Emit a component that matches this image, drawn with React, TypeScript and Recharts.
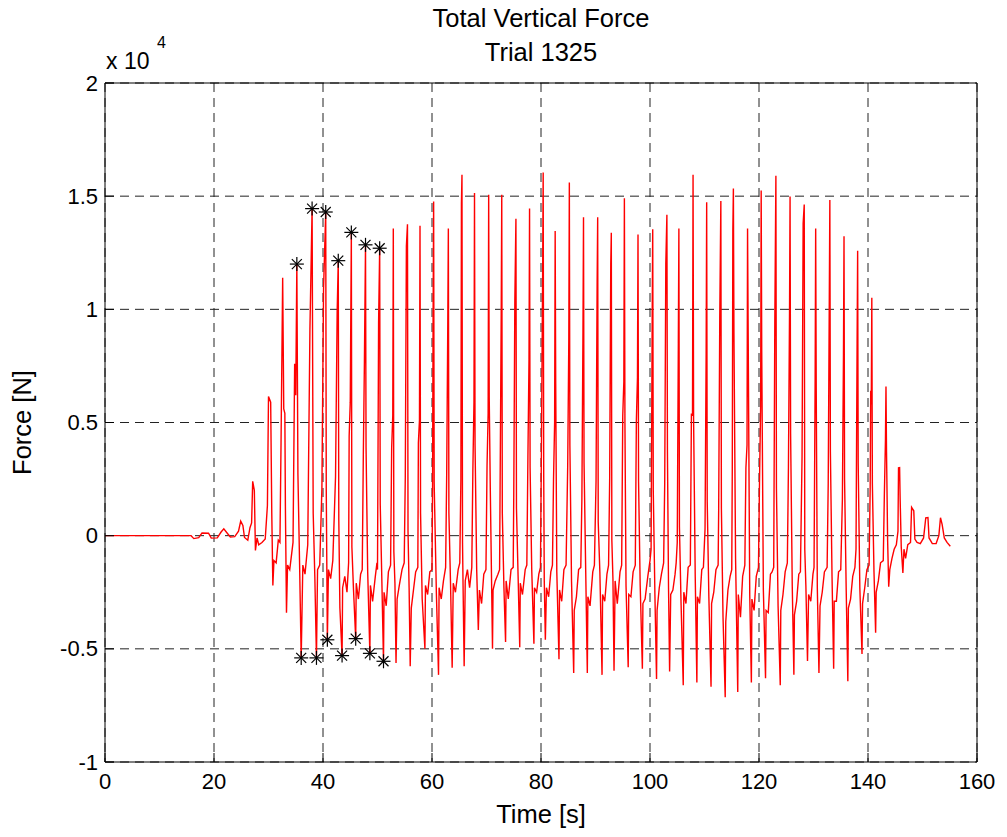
import React from 'react';
import { ComposedChart, Line, Scatter, XAxis, YAxis, CartesianGrid } from 'recharts';

// time [s], force [N]
const warmup = [
  [0, 0], [15.8, 0], [16.3, -130], [17.2, -90], [17.8, 120], [19.0, 110], [19.5, -110], [20.6, -100],
  [21.3, 160], [21.8, 300], [22.4, 120], [23.0, -60], [23.8, -40], [24.5, 200], [24.9, 640], [25.3, 450],
  [25.6, -80], [26.2, -200], [26.6, 350], [26.9, 560], [27.1, 2400], [27.4, 2000], [27.6, -650], [27.9, -100],
  [28.2, -400], [28.8, -300], [29.4, -150], [29.8, 1330], [30.0, 6150], [30.4, 5900], [30.6, 1000], [30.8, -2200],
  [31.0, -1100], [31.4, -1200], [31.8, -200], [32.1, -300], [32.3, 4070], [32.6, 11400], [32.8, 5600], [33.0, 5400],
  [33.1, 1300], [33.3, -3400], [33.5, -1300], [33.9, -1500], [34.5, -300], [34.8, 7600], [35.0, 6200], [35.2, 12000],
  [35.4, 2700], [35.7, -1200], [36.0, -5400], [36.3, -1300], [36.7, -1700], [37.2, -400], [37.6, 9100], [38.0, 14450],
  [38.2, 1000], [38.5, -1800], [38.8, -5400], [39.0, -1500], [39.4, -1300], [39.8, 2100], [40.1, 10900], [40.5, 14300],
  [40.6, 2000], [40.8, -4600], [41.0, -1500], [41.4, -1900], [41.8, -1100],
];

const steps40 = [
  [42.3, 2600], [42.6, 9900], [42.8, 12150], [42.9, 700], [43.1, -3200], [43.5, -5300], [43.6, -2300], [44.0, -1800], [44.4, -2500], [44.7, -1200],
  [44.8, 4400], [45.0, 5900], [45.2, 13400], [45.3, -500], [45.6, -2400], [46.0, -4550], [46.1, -2100], [46.5, -2800], [46.9, -1700], [47.2, -1500],
  [47.4, 3600], [47.6, 7700], [47.8, 12850], [47.9, 3900], [48.2, -1600], [48.6, -5200], [48.7, -2200], [49.1, -2900], [49.6, -1800], [49.9, -1200],
  [50.0, -1500], [50.2, 9400], [50.4, 12700], [50.5, 1400], [50.8, -2000], [51.1, -5550], [51.2, -2500], [51.6, -3100], [52.0, -1600], [52.4, -1300],
  [52.6, 3900], [52.8, 5300], [52.9, 13570], [53.0, -700], [53.2, -2100], [53.4, -5620], [53.6, -2800], [54.0, -2200], [54.5, -1500], [54.9, -1200],
  [55.1, 2600], [55.3, 12800], [55.5, 13760], [55.6, 200], [55.8, -2300], [56.0, -5770], [56.2, -3200], [56.6, -2400], [57.0, -1600], [57.4, -1400],
  [57.5, 4100], [57.7, 5100], [57.8, 13690], [57.9, 1000], [58.2, -2800], [58.7, -5000], [58.8, -2200], [59.2, -2600], [59.6, -1600], [60.0, -1500],
];

const steps60 = [
  [60.1, 2000], [60.2, 9500], [60.3, 14760], [60.4, 2300], [60.8, -2500], [61.2, -6150], [61.3, -2300], [61.7, -2800], [62.1, -2000], [62.5, -1400],
  [62.7, 2800], [62.9, 9500], [63.0, 13570], [63.1, 1000], [63.4, -2100], [63.7, -5840], [63.9, -2100], [64.3, -2500], [64.8, -1500], [65.1, -1200],
  [65.3, 2500], [65.4, 14700], [65.5, 15950], [65.6, -300], [65.7, -2200], [65.9, -5770], [66.1, -2000], [66.5, -1500], [66.9, -2300], [67.3, -1400],
  [67.5, 2900], [67.7, 5900], [67.8, 15140], [67.9, 4000], [68.2, -1500], [68.5, -4170], [68.7, -2400], [69.1, -3000], [69.5, -1700], [69.9, -1500],
  [70.1, 3100], [70.3, 5400], [70.4, 15060], [70.5, 6100], [70.7, 2000], [71.1, -5000], [71.2, -2400], [71.6, -2000], [72.1, -1700], [72.4, -1500],
  [72.5, 2300], [72.7, 9800], [72.8, 15060], [72.9, 1000], [73.2, -2300], [73.5, -4700], [73.6, -2000], [74.0, -2800], [74.5, -1500], [74.9, -1400],
  [75.0, 1700], [75.2, 10400], [75.4, 14000], [75.5, 1200], [75.8, -1800], [76.1, -4930], [76.2, -2100], [76.6, -2600], [77.1, -1500], [77.4, -1300],
  [77.6, 3500], [77.8, 7800], [77.9, 14450], [78.0, 3000], [78.3, -1500], [78.7, -4780], [78.8, -2300], [79.2, -2500], [79.6, -1700], [79.9, -1400],
];

const steps80 = [
  [80.1, 4500], [80.3, 11500], [80.4, 16050], [80.5, 2600], [80.6, -2000], [80.8, -4600], [81.0, -2300], [81.4, -2700], [81.8, -1600], [82.1, -1300],
  [82.3, 2500], [82.5, 5000], [82.6, 13460], [82.7, 6700], [82.9, -1600], [83.3, -5460], [83.4, -2400], [83.8, -2900], [84.2, -1500], [84.6, -1300],
  [84.9, 3100], [85.1, 8600], [85.2, 15600], [85.3, 4000], [85.6, -2000], [86.0, -6070], [86.1, -3300], [86.5, -2700], [86.9, -1500], [87.3, -1400],
  [87.5, 1600], [87.7, 9000], [87.8, 14070], [87.9, 3200], [88.2, -1500], [88.5, -6070], [88.6, -2700], [89.0, -3100], [89.5, -1600], [89.8, -1300],
  [90.1, 2400], [90.3, 11200], [90.4, 14070], [90.5, 600], [90.8, -1600], [91.2, -6150], [91.3, -2600], [91.7, -2900], [92.1, -1700], [92.4, -1300],
  [92.6, 2500], [92.8, 12000], [92.9, 13380], [93.0, -200], [93.2, -1900], [93.4, -5970], [93.6, -2000], [94.0, -3000], [94.5, -1600], [94.8, -1300],
  [95.0, 5300], [95.2, 6800], [95.3, 14910], [95.4, 5000], [95.6, -2200], [96.0, -5810], [96.1, -2600], [96.5, -2700], [96.9, -1600], [97.3, -1300],
  [97.5, 5100], [97.7, 7000], [97.8, 13310], [97.9, 2400], [98.2, -2200], [98.6, -5880], [98.7, -3000], [99.1, -2800], [99.6, -1800], [100.0, -1100],
];

const steps100 = [
  [100.2, -600], [100.4, 9500], [100.5, 13540], [100.6, 2000], [100.9, -2600], [101.2, -6330], [101.3, -3300], [101.7, -2300], [102.1, -1700], [102.5, -1200],
  [102.7, 2300], [102.9, 12000], [103.1, 14180], [103.2, 3700], [103.4, -2300], [103.6, -6000], [103.8, -2600], [104.2, -2400], [104.6, -1700], [104.8, -1200],
  [105.0, -300], [105.2, 8500], [105.3, 13570], [105.4, 400], [105.7, -3000], [106.1, -6610], [106.2, -2500], [106.6, -3000], [107.0, -1400], [107.4, -1300],
  [107.6, 5400], [107.8, 5300], [107.9, 15950], [108.0, 5100], [108.3, -1800], [108.6, -6490], [108.7, -2700], [109.1, -3000], [109.5, -1500], [109.8, -1400],
  [110.1, 300], [110.3, 8000], [110.4, 14730], [110.5, 1500], [110.8, -2700], [111.2, -6680], [111.3, -3000], [111.7, -2500], [112.1, -1500], [112.5, -1300],
  [112.6, 1100], [112.8, 9600], [113.0, 14790], [113.1, 1200], [113.4, -3600], [113.8, -7140], [113.9, -3800], [114.3, -2400], [114.7, -1800], [115.0, -1500],
  [115.1, 3000], [115.2, 13500], [115.3, 15340], [115.4, 9000], [115.7, -1000], [116.1, -6910], [116.2, -2600], [116.6, -3600], [117.0, -1800], [117.4, -1300],
  [117.6, 3000], [117.8, 4000], [117.9, 13570], [118.0, 9500], [118.3, -2600], [118.6, -6490], [118.7, -2800], [119.1, -3300], [119.5, -1800], [119.9, -1400],
];

const steps120 = [
  [120.1, 2500], [120.3, 5700], [120.4, 15250], [120.5, 8200], [120.8, -2400], [121.2, -6300], [121.3, -3300], [121.7, -3400], [122.1, -1700], [122.4, -1600],
  [122.7, -1400], [122.9, 9400], [123.1, 15900], [123.2, 2100], [123.5, -3100], [123.9, -6610], [124.0, -3300], [124.4, -2600], [124.8, -1600], [125.2, -1200],
  [125.4, 3000], [125.6, 9800], [125.7, 14990], [125.8, 4500], [126.1, -2200], [126.4, -6150], [126.5, -3500], [126.9, -2900], [127.3, -1700], [127.6, -1600],
  [127.9, 3500], [128.1, 13800], [128.3, 14630], [128.4, -600], [128.6, -2200], [128.9, -5540], [129.1, -2600], [129.5, -2900], [129.9, -1700], [130.1, -1400],
  [130.2, 2700], [130.3, 6900], [130.4, 13570], [130.5, 6500], [130.7, -2300], [131.0, -6070], [131.2, -3100], [131.6, -2500], [132.0, -1600], [132.5, -1400],
  [132.7, 2300], [132.9, 10500], [133.0, 14830], [133.1, 3700], [133.4, -1800], [133.7, -5880], [133.8, -2900], [134.2, -2900], [134.6, -1600], [135.0, -1500],
  [135.3, 1600], [135.5, 8000], [135.6, 13230], [135.7, 2500], [136.0, -2400], [136.3, -6430], [136.4, -3200], [136.8, -2800], [137.2, -1800], [137.6, -1400],
  [137.8, -600], [138.0, 8500], [138.1, 12590], [138.2, 3200], [138.5, -2300], [138.9, -5230], [139.0, -3000], [139.4, -2300], [139.8, -1500], [140.2, -1300],
];

const cooldown = [
  [140.4, 2100], [140.5, 6400], [140.6, 5800], [140.7, 10510], [140.8, 2300], [141.1, -1600], [141.4, -4290], [141.5, -2500], [141.9, -2000], [142.3, -1200],
  [142.8, -1100], [143.0, 1800], [143.2, 4200], [143.3, 6590], [143.4, 3700], [143.6, -200], [143.8, -2260], [144.0, -1500], [144.4, -1000], [144.8, -600],
  [145.2, -400], [145.5, 200], [145.6, 3000], [145.8, 3010], [145.9, 1600], [146.1, -500], [146.4, -1650], [146.6, -600], [146.9, -1000], [147.3, -400],
  [147.8, -300], [148.0, 1250], [148.4, 1100], [148.6, -150], [149.0, -300], [149.6, -350], [150.2, -100], [150.6, 790], [151.0, 800], [151.2, -100],
  [151.8, -350], [152.5, -350], [153.0, 0], [153.3, 790], [153.6, 500], [154.0, -100], [154.5, -300], [155.1, -470],
];

// marked peaks and troughs (black asterisks)
const markedPeaks = [[35.2, 12000], [38.0, 14450], [40.5, 14300], [42.8, 12150], [45.2, 13400], [47.8, 12850], [50.4, 12700]];
const markedTroughs = [[36.0, -5400], [38.8, -5400], [40.8, -4600], [43.5, -5300], [46.0, -4550], [48.6, -5200], [51.1, -5550]];

const xTicks = [0, 20, 40, 60, 80, 100, 120, 140, 160];
const yTicks = [-10000, -5000, 0, 5000, 10000, 15000, 20000];

const toPoints = (rows: number[][]) => rows.map(([t, f]) => ({ t, f }));
const forceData = toPoints([...warmup, ...steps40, ...steps60, ...steps80, ...steps100, ...steps120, ...cooldown]);
const markData = toPoints([...markedPeaks, ...markedTroughs]);

const FONT = 'Liberation Sans, Arial, Helvetica, sans-serif';
const TICK = 9;

const BottomTick = ({ x, y, payload }: any) => (
  <g>
    <line x1={x} y1={y} x2={x} y2={y - TICK} stroke="#000" />
    <text x={x} y={y + 27} textAnchor="middle" fontSize={22} fontFamily={FONT} fill="#000">{payload.value}</text>
  </g>
);

const LeftTick = ({ x, y, payload }: any) => (
  <g>
    <line x1={x} y1={y} x2={x + TICK} y2={y} stroke="#000" />
    <text x={x - 7} y={y + 7.5} textAnchor="end" fontSize={22} fontFamily={FONT} fill="#000">{payload.value / 10000}</text>
  </g>
);

const TopTick = ({ x, y }: any) => <line x1={x} y1={y} x2={x} y2={y + TICK} stroke="#000" />;
const RightTick = ({ x, y }: any) => <line x1={x} y1={y} x2={x - TICK} y2={y} stroke="#000" />;

const Asterisk = ({ cx, cy }: any) => (
  <g stroke="#000" strokeWidth={1.2}>
    <line x1={cx - 7} y1={cy} x2={cx + 7} y2={cy} />
    <line x1={cx} y1={cy - 7} x2={cx} y2={cy + 7} />
    <line x1={cx - 5} y1={cy - 5} x2={cx + 5} y2={cy + 5} />
    <line x1={cx - 5} y1={cy + 5} x2={cx + 5} y2={cy - 5} />
  </g>
);

export default function App() {
  return (
    <div style={{ position: 'absolute', left: 0, top: 0, width: 1007, height: 837, background: '#fff' }}>
      <ComposedChart width={1007} height={837} margin={{ top: 73, right: 20, bottom: 45, left: 45 }}>
        <CartesianGrid stroke="#222" strokeDasharray="9 6" />
        <XAxis dataKey="t" type="number" domain={[0, 160]} ticks={xTicks} interval={0} height={30}
          tickSize={0} tickMargin={0} tickLine={false} tick={<BottomTick />} axisLine={{ stroke: '#000' }} />
        <XAxis xAxisId="top" orientation="top" type="number" domain={[0, 160]} ticks={xTicks} interval={0} height={10}
          tickSize={0} tickMargin={0} tickLine={false} tick={<TopTick />} axisLine={{ stroke: '#000' }} />
        <YAxis type="number" domain={[-10000, 20000]} ticks={yTicks} interval={0} width={60}
          tickSize={0} tickMargin={0} tickLine={false} tick={<LeftTick />} axisLine={{ stroke: '#000' }} />
        <YAxis yAxisId="right" orientation="right" type="number" domain={[-10000, 20000]} ticks={yTicks} interval={0} width={10}
          tickSize={0} tickMargin={0} tickLine={false} tick={<RightTick />} axisLine={{ stroke: '#000' }} />
        <Line data={forceData} dataKey="f" type="linear" stroke="#ff0000" strokeWidth={1.4} dot={false}
          isAnimationActive={false} />
        <Scatter data={markData} dataKey="f" shape={<Asterisk />} isAnimationActive={false} />
      </ComposedChart>
      <svg width={1007} height={837} style={{ position: 'absolute', left: 0, top: 0, pointerEvents: 'none' }}
        fontFamily={FONT} fill="#000">
        <text x={541} y={27} textAnchor="middle" fontSize={25.5}>Total Vertical Force</text>
        <text x={541} y={61} textAnchor="middle" fontSize={25.5}>Trial 1325</text>
        <text x={541} y={823} textAnchor="middle" fontSize={25.5}>Time [s]</text>
        <text x={31} y={422.5} textAnchor="middle" fontSize={25.5} transform="rotate(-90 31 422.5)">Force [N]</text>
        <text x={106} y={68.5} fontSize={23}>x 10</text>
        <text x={157} y={48} fontSize={16}>4</text>
      </svg>
    </div>
  );
}
